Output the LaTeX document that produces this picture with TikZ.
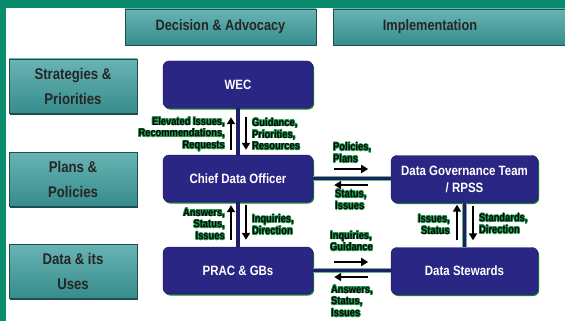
\documentclass[tikz,border=0pt]{standalone}
\usepackage{fontspec}
\setmainfont{Liberation Sans}[FakeStretch=0.85]
\usepackage{contour}
\contourlength{0.7pt}
\usetikzlibrary{arrows.meta}
\usetikzlibrary{shadows}

\definecolor{frame}{RGB}{8,140,108}
\definecolor{tealtop}{RGB}{105,180,180}
\definecolor{tealbot}{RGB}{55,140,140}
\definecolor{tealedge}{RGB}{28,80,80}
\definecolor{navy}{RGB}{42,38,132}
\definecolor{navyedge}{RGB}{24,22,84}
\definecolor{glow}{RGB}{40,150,80}
\definecolor{linknavy}{RGB}{32,30,104}

\newcommand{\gl}[1]{\contour{glow}{#1}}

\tikzset{
  headbox/.style={rectangle, draw=tealedge, top color=tealtop, bottom color=tealbot,
    minimum height=36pt, inner sep=0pt,
    drop shadow={fill=tealedge, shadow xshift=0.5pt, shadow yshift=-1.5pt, opacity=1}},
  headtxt/.style={font=\fontsize{15}{18}\selectfont\bfseries, text=black!85},
  sidebox/.style={headbox, minimum width=128pt, minimum height=54pt, align=center,
    font=\fontsize{15.5}{24}\selectfont\bfseries, text=black!85},
  bodybox/.style={rectangle, rounded corners=6pt, draw=navyedge, fill=navy,
    minimum width=150pt, minimum height=47pt, text=white,
    font=\fontsize{13.5}{17}\selectfont\bfseries,
    drop shadow={fill=glow!80!black, shadow xshift=1.2pt, shadow yshift=-1.5pt, opacity=1}},
  link/.style={draw=linknavy, line width=3.4pt, preaction={draw=glow!70, line width=4.6pt}},
  arr/.style={line width=2.8pt, -{Triangle[length=7pt,width=8pt]}},
  lbl/.style={font=\fontsize{11}{11.8}\selectfont\bfseries, inner sep=0pt, text=black}
}

\begin{document}
\begin{tikzpicture}[x=1pt, y=-1pt]
    \useasboundingbox (0,0) rectangle (565,321);

    % Frame
    \fill[frame] (0,0) rectangle (565,8);
    \fill[frame] (0,0) rectangle (6,321);

    % Column headers
    \node[headbox, minimum width=191pt] (decision) at (220.5,27) {};
    \node[headtxt] at (decision) {Decision \& Advocacy};
    \node[headbox, minimum width=240pt] (impl) at (453,27) {};
    \node[headtxt] at (430,27) {Implementation};

    % Row headers
    \foreach \nm/\y/\txt in {strat/86/{Strategies \&\\[1pt]Priorities},
                             plans/179/{Plans \&\\[1pt]Policies},
                             uses/271/{Data \& its\\[1pt]Uses}} {
        \node[sidebox] (\nm) at (73,\y) {\txt};
    }

    % Bodies
    \node[bodybox] (wec)  at (238,84.5)  {WEC};
    \node[bodybox] (cdo)  at (238,178.5) {Chief Data Officer};
    \node[bodybox] (prac) at (238,270.5) {PRAC \& GBs};
    \node[bodybox, minimum width=147pt, align=center] (dgt) at (464.5,179) {Data Governance Team\\/ RPSS};
    \node[bodybox, minimum width=147pt] (ds)  at (464.5,271) {Data Stewards};

    % Links
    \draw[link] (wec.south) -- (cdo.north);
    \draw[link] (cdo.south) -- (prac.north);
    \draw[link] (dgt.south) -- (ds.north);
    \draw[link] (cdo.east) -- (cdo.east -| dgt.west);
    \draw[link] (prac.east) -- (prac.east -| ds.west);

    % WEC <-> CDO
    \draw[arr] ([xshift=-7pt,yshift=5pt]cdo.north) -- ([xshift=-7pt,yshift=-9pt]wec.south);
    \draw[arr] ([xshift=8pt,yshift=-9pt]wec.south) -- ([xshift=8pt,yshift=5pt]cdo.north);
    \node[lbl, anchor=east, align=right] at (225,134.5) {\gl{Elevated Issues,}\\\gl{Recommendations,}\\\gl{Requests}};
    \node[lbl, anchor=west, align=left] at (252,134.5) {\gl{Guidance,}\\\gl{Priorities,}\\\gl{Resources}};

    % CDO <-> PRAC
    \draw[arr] ([xshift=-7pt,yshift=7pt]prac.north) -- ([xshift=-7pt,yshift=-3pt]cdo.south);
    \draw[arr] ([xshift=8pt,yshift=-3pt]cdo.south) -- ([xshift=8pt,yshift=7pt]prac.north);
    \node[lbl, anchor=east, align=right] at (225,224.5) {\gl{Answers,}\\\gl{Status,}\\\gl{Issues}};
    \node[lbl, anchor=west, align=left] at (252,225) {\gl{Inquiries,}\\\gl{Direction}};

    % DGT <-> DS
    \draw[arr] ([xshift=-7.5pt,yshift=7pt]ds.north) -- ([xshift=-7.5pt,yshift=-2pt]dgt.south);
    \draw[arr] ([xshift=8.5pt,yshift=-3pt]dgt.south) -- ([xshift=8.5pt,yshift=7pt]ds.north);
    \node[lbl, anchor=east, align=right] at (450,225) {\gl{Issues,}\\\gl{Status}};
    \node[lbl, anchor=west, align=left] at (479,224) {\gl{Standards,}\\\gl{Direction}};

    % CDO <-> DGT
    \draw[arr] ([xshift=21pt,yshift=9.5pt]cdo.east) -- ([xshift=55pt,yshift=9.5pt]cdo.east);
    \draw[arr] ([xshift=55pt,yshift=-6.5pt]cdo.east) -- ([xshift=21pt,yshift=-6.5pt]cdo.east);
    \node[lbl, anchor=west, align=left] at (333,153) {\gl{Policies,}\\\gl{Plans}};
    \node[lbl, anchor=west, align=left] at (335,200) {\gl{Status,}\\\gl{Issues}};

    % PRAC <-> DS
    \draw[arr] ([xshift=21pt,yshift=8.5pt]prac.east) -- ([xshift=55pt,yshift=8.5pt]prac.east);
    \draw[arr] ([xshift=55pt,yshift=-6.5pt]prac.east) -- ([xshift=21pt,yshift=-6.5pt]prac.east);
    \node[lbl, anchor=west, align=left] at (330,241.5) {\gl{Inquiries,}\\\gl{Guidance}};
    \node[lbl, anchor=west, align=left] at (331,301.5) {\gl{Answers,}\\\gl{Status,}\\\gl{Issues}};
\end{tikzpicture}
\end{document}
